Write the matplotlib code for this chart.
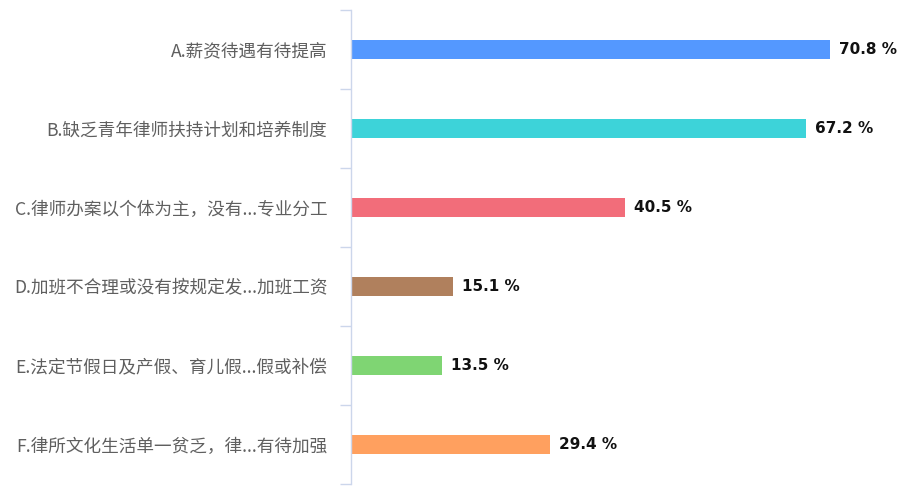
import matplotlib
matplotlib.use("Agg")
import matplotlib.pyplot as plt
import numpy as np

plt.rcParams['font.family'] = ['Noto Sans CJK SC', 'DejaVu Sans']

categories = [
    "A.薪资待遇有待提高",
    "B.缺乏青年律师扶持计划和培养制度",
    "C.律师办案以个体为主，没有...专业分工",
    "D.加班不合理或没有按规定发...加班工资",
    "E.法定节假日及产假、育儿假...假或补偿",
    "F.律所文化生活单一贫乏，律...有待加强",
]
values = [70.8, 67.2, 40.5, 15.1, 13.5, 29.4]
colors = ["#5498ff", "#3dd3d9", "#f26d7a", "#b0805d", "#7fd573", "#ffa05f"]

fig = plt.figure(figsize=(9.14, 4.9), dpi=100)
ax = fig.add_axes([351 / 914, 6 / 490, 1 - 351 / 914, 474 / 490])

y = np.arange(len(categories))
ax.barh(y, values, height=0.25, color=colors)
ax.set_ylim(len(categories) - 0.5, -0.5)
ax.set_xlim(0, (914 - 351) / 6.77)

for yi, v in zip(y, values):
    ax.text(v + 1.3, yi, f"{v} %", va="center", ha="left", fontsize=11,
            fontweight="bold", color="#111111", family=['DejaVu Sans'])

ax.set_yticks(y)
ax.set_yticklabels(categories, fontsize=12.7, color="#5f5f5f")
ax.set_yticks(np.arange(-0.5, len(categories)), minor=True)
ax.tick_params(axis="y", which="major", length=0, pad=17)
ax.tick_params(axis="y", which="minor", length=8, color="#ccd6eb", width=1)
ax.set_xticks([])

for s in ["top", "right", "bottom"]:
    ax.spines[s].set_visible(False)
ax.spines["left"].set_color("#ccd6eb")
ax.spines["left"].set_linewidth(1)

fig.savefig("out.png", dpi=100)
